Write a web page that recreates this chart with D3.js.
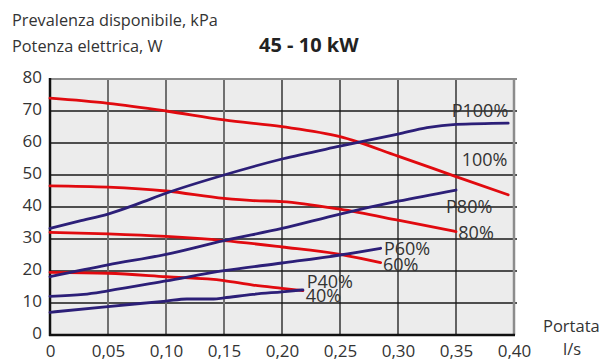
<!DOCTYPE html>
<html>
<head>
<meta charset="utf-8">
<script src="https://cdn.jsdelivr.net/npm/d3@7"></script>
<style>
  html, body { margin: 0; padding: 0; background: #fff; }
  svg { display: block; font-family: "Open Sans", "Noto Sans", sans-serif; }
</style>
</head>
<body>
<svg id="chart" width="599" height="363"></svg>
<script>
// Flow (l/s) ticks and pressure / power ticks
const xTicks = [0, 0.05, 0.10, 0.15, 0.20, 0.25, 0.30, 0.35, 0.40];
const yTicks = [0, 10, 20, 30, 40, 50, 60, 70, 80];

// Available head (kPa) at pump speed 100/80/60/40 %
const head100Flow = [0, 0.05, 0.10, 0.15, 0.20, 0.25, 0.30, 0.35, 0.395];
const head100 =     [74, 72.4, 70, 67.2, 65.1, 62, 55.9, 49.5, 43.8];
const head80Flow =  [0, 0.05, 0.10, 0.15, 0.175, 0.20, 0.25, 0.30, 0.35];
const head80 =      [46.6, 46.2, 45, 42.7, 42, 41.7, 39.3, 35.9, 32.3];
const head60Flow =  [0, 0.05, 0.10, 0.15, 0.20, 0.25, 0.285];
const head60 =      [32.1, 31.6, 30.8, 29.5, 27.5, 25.2, 22.6];
const head40Flow =  [0, 0.05, 0.10, 0.15, 0.175, 0.20, 0.218];
const head40 =      [19.6, 19.3, 18.2, 17.0, 15.6, 14.6, 13.9];

// Electrical power (W) at pump speed 100/80/60/40 %
const power100Flow = [0, 0.025, 0.05, 0.075, 0.10, 0.15, 0.20, 0.25, 0.30, 0.325, 0.35, 0.395];
const power100 =     [33.3, 35.6, 37.8, 40.9, 44.3, 50, 55, 59, 62.8, 64.8, 65.8, 66.2];
const power80Flow =  [0, 0.05, 0.10, 0.15, 0.20, 0.25, 0.30, 0.35];
const power80 =      [18.2, 21.9, 25.2, 29.5, 33.3, 37.8, 41.8, 45.3];
const power60Flow =  [0, 0.029, 0.05, 0.10, 0.15, 0.20, 0.25, 0.285];
const power60 =      [12.1, 12.7, 13.8, 16.9, 20.1, 22.5, 25, 27.1];
const power40Flow =  [0, 0.05, 0.10, 0.118, 0.141, 0.15, 0.175, 0.20, 0.218];
const power40 =      [7.1, 8.9, 10.6, 11.25, 11.25, 11.6, 12.7, 13.5, 14.1];

const seriesNames = ["100%", "80%", "60%", "40%", "P100%", "P80%", "P60%", "P40%"];

const RED = "#e10a0f";
const BLUE = "#2c1f78";
const TEXT = "#333";

const svg = d3.select("#chart");
const x = d3.scaleLinear().domain([0, 0.40]).range([50, 514]);
const y = d3.scaleLinear().domain([0, 80]).range([335, 79]);

// plot background
svg.append("rect")
  .attr("x", x(0)).attr("y", y(80))
  .attr("width", x(0.40) - x(0)).attr("height", y(0) - y(80))
  .attr("fill", "#ececec");

// horizontal grid lines (slightly overrun the right border)
svg.append("g").selectAll("line").data(yTicks.filter(d => d > 0 && d < 80)).join("line")
  .attr("x1", x(0)).attr("x2", x(0.40) + 3)
  .attr("y1", d => y(d)).attr("y2", d => y(d))
  .attr("stroke", "#1a1a1a").attr("stroke-width", 1.3);

// vertical grid lines
svg.append("g").selectAll("line").data(xTicks.filter(d => d > 0 && d < 0.40)).join("line")
  .attr("x1", d => x(d)).attr("x2", d => x(d))
  .attr("y1", y(80)).attr("y2", y(0))
  .attr("stroke", d => d < 0.18 ? "#707070" : "#1a1a1a")
  .attr("stroke-width", d => d < 0.18 ? 2 : 1.3);

// frame: grey top and right, black left and bottom axes
svg.append("line").attr("x1", x(0)).attr("x2", x(0.40) + 3)
  .attr("y1", y(80)).attr("y2", y(80))
  .attr("stroke", "#8c8c8c").attr("stroke-width", 2);
svg.append("line").attr("x1", x(0.40)).attr("x2", x(0.40))
  .attr("y1", y(80) - 1).attr("y2", y(0))
  .attr("stroke", "#8c8c8c").attr("stroke-width", 2.5);
svg.append("line").attr("x1", x(0)).attr("x2", x(0))
  .attr("y1", y(80) - 1).attr("y2", y(0) + 1)
  .attr("stroke", "#111").attr("stroke-width", 2.5);
svg.append("line").attr("x1", x(0) - 1).attr("x2", x(0.40) + 1)
  .attr("y1", y(0)).attr("y2", y(0))
  .attr("stroke", "#111").attr("stroke-width", 2.5);

// tick labels
const fmt = d => d === 0 ? "0" : d3.format(".2f")(d).replace(".", ",");
const xAxis = d3.axisBottom(x).tickValues(xTicks).tickFormat(fmt).tickSize(0).tickPadding(0);
const gx = svg.append("g").attr("transform", `translate(0,${y(0)})`).call(xAxis);
gx.select(".domain").remove();
gx.selectAll("text").attr("font-size", 17).attr("fill", TEXT)
  .attr("font-family", "Open Sans").attr("dy", null).attr("y", 21.5);

const yAxis = d3.axisLeft(y).tickValues(yTicks).tickSize(0).tickPadding(0);
const gy = svg.append("g").attr("transform", `translate(${x(0) - 8},0)`).call(yAxis);
gy.select(".domain").remove();
gy.selectAll("text").attr("font-size", 17).attr("fill", TEXT)
  .attr("font-family", "Open Sans").attr("dy", "0.32em").attr("y", -1.5);

// curves
const line = d3.line().x(d => x(d[0])).y(d => y(d[1])).curve(d3.curveMonotoneX);
const curves = [
  { name: seriesNames[0], xs: head100Flow, ys: head100, color: RED },
  { name: seriesNames[1], xs: head80Flow, ys: head80, color: RED },
  { name: seriesNames[2], xs: head60Flow, ys: head60, color: RED },
  { name: seriesNames[3], xs: head40Flow, ys: head40, color: RED },
  { name: seriesNames[4], xs: power100Flow, ys: power100, color: BLUE },
  { name: seriesNames[5], xs: power80Flow, ys: power80, color: BLUE },
  { name: seriesNames[6], xs: power60Flow, ys: power60, color: BLUE },
  { name: seriesNames[7], xs: power40Flow, ys: power40, color: BLUE }
];
svg.append("g").selectAll("path").data(curves).join("path")
  .attr("d", c => line(c.xs.map((v, i) => [v, c.ys[i]])))
  .attr("fill", "none").attr("stroke", c => c.color)
  .attr("stroke-width", 2.8).attr("stroke-linecap", "round");

// curve labels, placed near each curve's end
const labelPos = {
  "P100%": [0.3463, 68.0], "100%": [0.3549, 52.8],
  "P80%": [0.3414, 38.2], "80%": [0.3520, 29.9],
  "P60%": [0.2879, 25.0], "60%": [0.2871, 20.1],
  "P40%": [0.2213, 14.6], "40%": [0.2205, 10.4]
};
svg.append("g").selectAll("text").data(curves).join("text")
  .attr("x", c => x(labelPos[c.name][0]))
  .attr("y", c => y(labelPos[c.name][1]))
  .attr("font-size", 18).attr("fill", TEXT)
  .text(c => c.name);

// titles
svg.append("text").attr("x", 12).attr("y", 26).attr("font-size", 16.3).attr("fill", TEXT)
  .text("Prevalenza disponibile, kPa");
svg.append("text").attr("x", 12).attr("y", 52).attr("font-size", 16.3).attr("fill", TEXT)
  .text("Potenza elettrica, W");
svg.append("text").attr("x", 259).attr("y", 52).attr("font-size", 20).attr("font-weight", "bold")
  .attr("fill", "#222")
  .text("45 - 10 kW");

// x axis title
svg.append("text").attr("x", 543).attr("y", 332).attr("font-size", 16.5).attr("fill", TEXT)
  .text("Portata");
svg.append("text").attr("x", 563).attr("y", 355).attr("font-size", 16.5).attr("fill", TEXT)
  .text("l/s");
</script>
</body>
</html>
